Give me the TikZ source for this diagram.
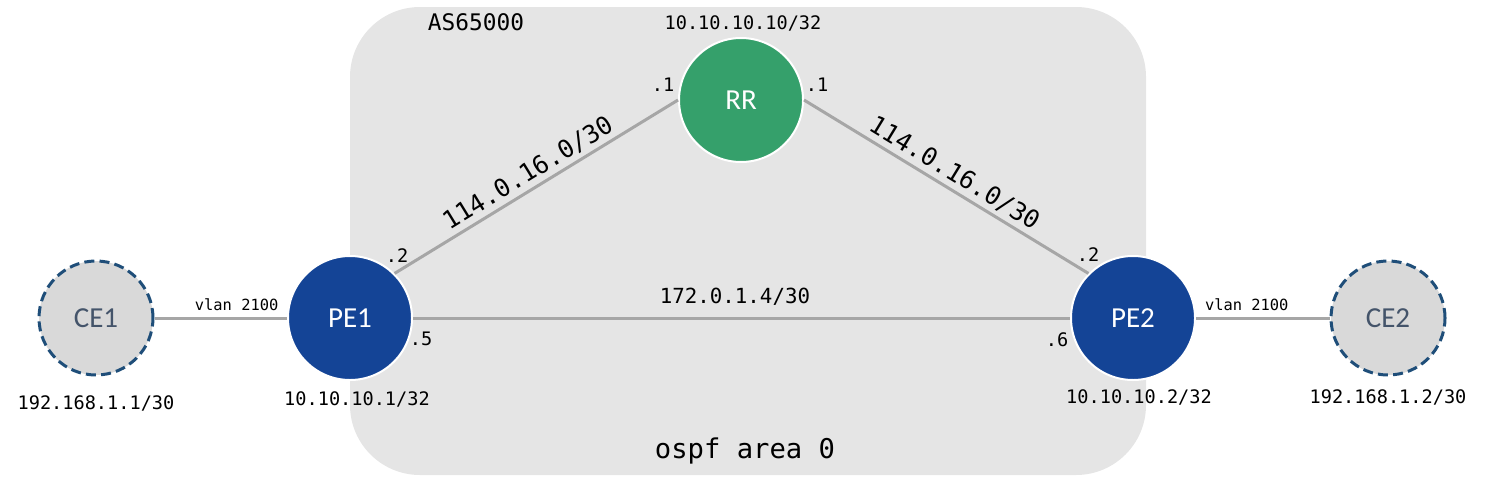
\documentclass[tikz,border=0pt]{standalone}
\usepackage{fontspec}
\setmainfont{Carlito}
\setmonofont{DejaVu Sans Mono}
\usetikzlibrary{positioning}

\definecolor{pefill}{HTML}{144496}
\definecolor{rrfill}{HTML}{35A06B}
\definecolor{cefill}{HTML}{D9D9D9}
\definecolor{ceedge}{HTML}{1F4E79}
\definecolor{cetext}{HTML}{44546A}
\definecolor{linkgray}{HTML}{A6A6A6}
\definecolor{asgray}{HTML}{E5E5E5}

\begin{document}
\begin{tikzpicture}[x=0.5pt, y=-0.5pt,
	router/.style={circle, minimum size=62pt, inner sep=0pt, draw=white, line width=1pt, text=white, font=\fontsize{14.5}{15}\selectfont},
	cebox/.style={circle, minimum size=57pt, inner sep=0pt, fill=cefill, draw=ceedge, line width=1.5pt, dash pattern=on 5pt off 2.6pt, text=cetext, font=\fontsize{14.5}{15}\selectfont},
	link/.style={draw=linkgray, line width=1.5pt},
	addr/.style={inner sep=0pt, font=\ttfamily\fontsize{9.3}{10}\selectfont}]
	\useasboundingbox (0,0) rectangle (1486,487);
	\fill[asgray, rounded corners=35pt] (350,7) rectangle (1146,475);
	% routers
	\node[cebox] (ce1) at (96,318) {CE1};
	\node[router, fill=pefill] (pe1) at (350,318) {PE1};
	\node[router, fill=rrfill] (rr) at (741,100) {RR};
	\node[router, fill=pefill] (pe2) at (1133,318) {PE2};
	\node[cebox] (ce2) at (1388,318) {CE2};
	% links
	\path[link]
		(ce1) edge node[pos=0.62, above, inner sep=3pt, font=\ttfamily\fontsize{7.7}{8}\selectfont] {vlan 2100} (pe1)
		(pe1.north east) edge node[sloped, above, inner sep=2pt, font=\ttfamily\fontsize{12.4}{13}\selectfont] {114.0.16.0/30} (rr.west)
		(rr.east) edge node[sloped, above, inner sep=2pt, font=\ttfamily\fontsize{12.4}{13}\selectfont] {114.0.16.0/30} (pe2.north west)
		(pe1) edge node[pos=0.49, above, inner sep=5.5pt, font=\ttfamily\fontsize{10.4}{11}\selectfont] {172.0.1.4/30} (pe2)
		(pe2) edge node[pos=0.38, above, inner sep=3pt, font=\ttfamily\fontsize{7.7}{8}\selectfont] {vlan 2100} (ce2);
	% interface ids
	\node[addr] (rr-w) at (663,85) {.1};
	\node[addr] (rr-e) at (817,85) {.1};
	\node[addr] (pe1-n) at (397,256) {.2};
	\node[addr] (pe1-e) at (421,339) {.5};
	\node[addr] (pe2-w) at (1057,340) {.6};
	\node[addr] (pe2-n) at (1088,255) {.2};
	% loopbacks
	\node[addr] (rr-lo) at (743,23) {10.10.10.10/32};
	\node[addr] (pe1-lo) at (357,399) {10.10.10.1/32};
	\node[addr] (pe2-lo) at (1139,397) {10.10.10.2/32};
	\node[addr] (ce1-ip) at (96,403) {192.168.1.1/30};
	\node[addr] (ce2-ip) at (1388,397) {192.168.1.2/30};
	\node[inner sep=0pt, font=\ttfamily\fontsize{11.4}{12}\selectfont] (as) at (476,22) {AS65000};
	\node[inner sep=0pt, font=\ttfamily\fontsize{13.6}{14}\selectfont] (area) at (745,451) {ospf area 0};
\end{tikzpicture}
\end{document}
